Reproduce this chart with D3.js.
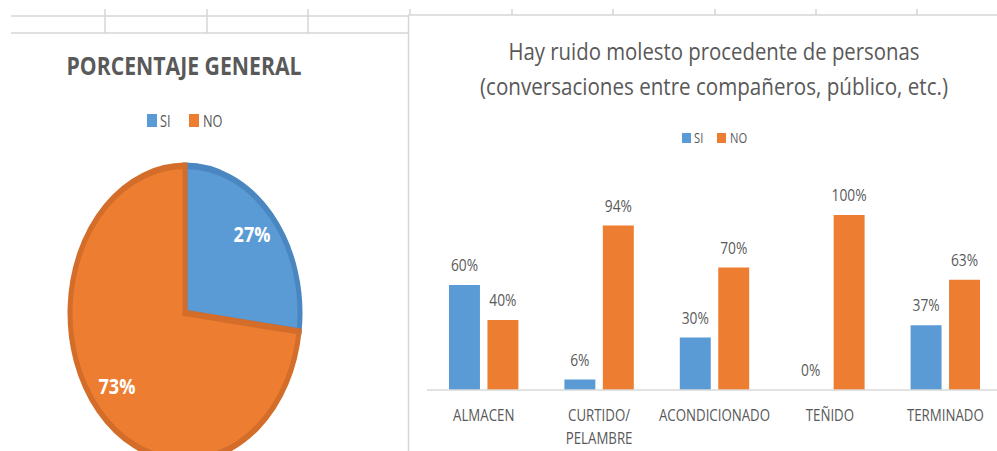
<!DOCTYPE html>
<html>
<head>
<meta charset="utf-8">
<script src="https://cdn.jsdelivr.net/npm/d3@7"></script>
<style>
  body { margin: 0; background: #fff; }
  svg { display: block; font-family: 'Open Sans', sans-serif; }
</style>
</head>
<body>
<svg width="997" height="451"></svg>
<script>
// data
var pieLabels = ["SI", "NO"];
var pieValues = [27, 73];
var areas = ["ALMACEN", "CURTIDO/\nPELAMBRE", "ACONDICIONADO", "TEÑIDO", "TERMINADO"];
var siValues = [60, 6, 30, 0, 37];
var noValues = [40, 94, 70, 100, 63];
var series = ["SI", "NO"];
var titleLines = ["Hay ruido molesto procedente de personas", "(conversaciones entre compañeros, público, etc.)"];
var colors = {SI: "#5B9BD5", NO: "#ED7D31"};
var borders = {SI: "#4A87C1", NO: "#D36D29"};
var textGray = "#595959";

var svg = d3.select("svg");

// the reference font is narrow, so squeeze the glyphs a bit
function squeeze(sel, f) {
  sel.each(function() {
    var len = this.getComputedTextLength();
    d3.select(this).attr("textLength", len * f).attr("lengthAdjust", "spacingAndGlyphs");
  });
}

// spreadsheet cell lines behind the charts
var grid = svg.append("g").attr("stroke", "#d6d6d6").attr("stroke-width", 1.5);
grid.append("line").attr("x1", 11).attr("x2", 408).attr("y1", 16).attr("y2", 16);
grid.append("line").attr("x1", 11).attr("x2", 408).attr("y1", 33).attr("y2", 33);
[105, 207, 308].forEach(function(x) {
  grid.append("line").attr("x1", x).attr("x2", x).attr("y1", 9).attr("y2", 33);
});
[410, 512, 613, 715, 816, 917].forEach(function(x) {
  grid.append("line").attr("x1", x).attr("x2", x).attr("y1", 9).attr("y2", 15);
});
grid.append("line").attr("x1", 408).attr("x2", 997).attr("y1", 15).attr("y2", 15);
grid.append("line").attr("x1", 408.5).attr("x2", 408.5).attr("y1", 15).attr("y2", 451);

// ---------- left: pie ----------
svg.append("text")
    .attr("x", 184).attr("y", 75)
    .attr("text-anchor", "middle")
    .attr("font-size", 25).attr("font-weight", "bold")
    .attr("fill", textGray)
    .attr("textLength", 235).attr("lengthAdjust", "spacingAndGlyphs")
    .text("PORCENTAJE GENERAL");

var legL = svg.append("g").attr("font-size", 17).attr("fill", textGray);
legL.selectAll("rect").data(series).enter().append("rect")
    .attr("x", function(d, i) { return 147 + i * 42; })
    .attr("y", 114).attr("width", 10).attr("height", 13)
    .attr("fill", function(d) { return colors[d]; });
legL.selectAll("text").data(series).enter().append("text")
    .attr("x", function(d, i) { return 160 + i * 43; })
    .attr("y", 127)
    .text(function(d) { return d; })
    .call(squeeze, 0.75);

var pie = d3.pie().sort(null).value(function(d) { return d; });
var arc = d3.arc().innerRadius(0).outerRadius(115);
var pieG = svg.append("g").attr("transform", "translate(185,313) scale(1,1.28)");
var slices = pie(pieValues);
pieG.selectAll("path").data(slices).enter().append("path")
    .attr("d", arc)
    .attr("fill", function(d, i) { return colors[pieLabels[i]]; })
    .attr("stroke", function(d, i) { return borders[pieLabels[i]]; })
    .attr("stroke-width", 5)
    .attr("stroke-linejoin", "miter");

var labelArc = d3.arc().innerRadius(60).outerRadius(140);
svg.append("g").selectAll("text").data(slices).enter().append("text")
    .attr("transform", function(d, i) {
      var c = labelArc.centroid(d);
      var off = i === 0 ? [-8, 14] : [7, -4];
      return "translate(" + (185 + c[0] + off[0]) + "," + (313 + c[1] * 1.28 + off[1]) + ")";
    })
    .attr("text-anchor", "middle")
    .attr("font-size", 22).attr("font-weight", "bold").attr("fill", "#fff")
    .text(function(d) { return d.value + "%"; })
    .call(squeeze, 0.82);

// ---------- right: grouped bars ----------
svg.append("g").attr("font-size", 24).attr("fill", textGray).attr("text-anchor", "middle")
  .selectAll("text")
    .data(titleLines)
    .enter().append("text")
    .attr("x", 714)
    .attr("y", function(d, i) { return 60 + i * 35; })
    .attr("textLength", function(d, i) { return i === 0 ? 411 : 468; })
    .attr("lengthAdjust", "spacingAndGlyphs")
    .text(function(d) { return d; });

var legR = svg.append("g").attr("font-size", 14).attr("fill", textGray);
legR.selectAll("rect").data(series).enter().append("rect")
    .attr("x", function(d, i) { return 682 + i * 35; })
    .attr("y", 133).attr("width", 9).attr("height", 10)
    .attr("fill", function(d) { return colors[d]; });
legR.selectAll("text").data(series).enter().append("text")
    .attr("x", function(d, i) { return 694 + i * 36; })
    .attr("y", 143)
    .text(function(d) { return d; })
    .call(squeeze, 0.8);

var x0 = d3.scaleBand().domain(areas).range([426, 1003]).padding(0);
var x1 = d3.scaleBand().domain(series)
    .range([23, x0.bandwidth() - 23]).paddingInner(0.195);
var y = d3.scaleLinear().domain([0, 100]).range([390, 215]);

var rows = areas.map(function(a, i) {
  return {area: a, vals: [{k: "SI", v: siValues[i]}, {k: "NO", v: noValues[i]}]};
});

var groups = svg.append("g").selectAll("g").data(rows).enter().append("g")
    .attr("transform", function(d) { return "translate(" + x0(d.area) + ",0)"; });

groups.selectAll("rect").data(function(d) { return d.vals; }).enter().append("rect")
    .attr("x", function(d) { return x1(d.k); })
    .attr("y", function(d) { return y(d.v); })
    .attr("width", x1.bandwidth())
    .attr("height", function(d) { return y(0) - y(d.v); })
    .attr("fill", function(d) { return colors[d.k]; });

groups.selectAll("text").data(function(d) { return d.vals; }).enter().append("text")
    .attr("x", function(d) { return x1(d.k) + x1.bandwidth() / 2; })
    .attr("y", function(d) { return y(d.v) - 14; })
    .attr("text-anchor", "middle")
    .attr("font-size", 16).attr("fill", textGray)
    .text(function(d) { return d.v + "%"; })
    .call(squeeze, 0.86);

var xAxis = svg.append("g")
    .attr("transform", "translate(0," + y(0) + ")")
    .call(d3.axisBottom(x0).tickSize(0).tickPadding(0).tickFormat(""));
xAxis.select(".domain").attr("stroke", "#d9d9d9").attr("stroke-width", 1.5)
    .attr("d", "M427,0H997");
xAxis.selectAll(".tick text").remove();
xAxis.selectAll(".tick").each(function(d) {
  var t = d3.select(this);
  d.split("\n").forEach(function(line, i) {
    t.append("text")
        .attr("x", 0).attr("y", 31 + i * 23)
        .attr("fill", textGray).attr("font-size", 17).attr("text-anchor", "middle")
        .attr("font-family", "'Open Sans', sans-serif")
        .text(line)
        .call(squeeze, 0.78);
  });
});
</script>
</body>
</html>
